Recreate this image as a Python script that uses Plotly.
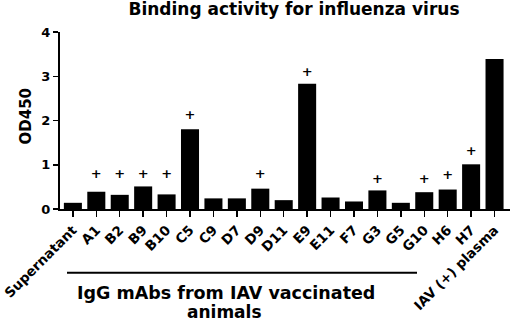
import plotly.graph_objects as go

categories = ["Supernatant", "A1", "B2", "B9", "B10", "C5", "C9", "D7", "D9", "D11",
              "E9", "E11", "F7", "G3", "G5", "G10", "H6", "H7", "IAV (+) plasma"]
od450 = [0.14, 0.39, 0.32, 0.51, 0.33, 1.80, 0.24, 0.24, 0.46, 0.20,
         2.83, 0.26, 0.17, 0.42, 0.14, 0.38, 0.44, 1.01, 3.39]
plus_labels = ["A1", "B2", "B9", "B10", "C5", "D9", "E9", "G3", "G10", "H6", "H7"]
plus_heights = [0.77, 0.77, 0.77, 0.77, 2.10, 0.77, 3.07, 0.67, 0.67, 0.75, 1.30]
y_ticks = [0, 1, 2, 3, 4]

FONT = "DejaVu Sans, Liberation Sans, sans-serif"
W, H = 510, 322
L, T, B = 60, 32, 113
PW, PH = W - L, H - T - B


def px_x(x):
    return (x - L) / PW


def px_y(y):
    return (H - B - y) / PH


fig = go.Figure()
fig.add_trace(go.Bar(x=categories, y=od450, marker=dict(color="black", line=dict(width=0)),
                     width=0.77, showlegend=False, hoverinfo="skip"))
fig.add_trace(go.Scatter(x=plus_labels, y=plus_heights, mode="text", text=["+"] * len(plus_labels),
                         textfont=dict(family=FONT, size=13, color="black", weight="bold"),
                         showlegend=False, hoverinfo="skip"))

fig.update_layout(
    width=W, height=H,
    margin=dict(l=L, r=0, t=T, b=B, pad=0),
    plot_bgcolor="white", paper_bgcolor="white",
    hovermode=False,
    font=dict(family=FONT, color="black", weight="bold"),
    title=dict(text="Binding activity for influenza virus", x=294 / W, xanchor="center",
               xref="container", yref="container",
               y=1 - 9 / H, yanchor="middle", font=dict(family=FONT, size=17, weight="bold")),
)
fig.update_xaxes(
    type="category", range=[-0.55, 18.66], automargin=False,
    showline=True, linecolor="black", linewidth=2,
    ticks="outside", ticklen=6, tickwidth=1.5, tickcolor="black",
    tickangle=-45, tickfont=dict(family=FONT, size=13.5, weight="bold"),
    showgrid=False, zeroline=False,
)
fig.update_yaxes(
    range=[0, 4], tickvals=y_ticks, automargin=False,
    showline=True, linecolor="black", linewidth=2,
    ticks="outside", ticklen=5, tickwidth=1.5, tickcolor="black",
    tickfont=dict(family=FONT, size=13, weight="bold"),
    showgrid=False, zeroline=False,
)

fig.add_annotation(xref="paper", yref="paper", x=px_x(25), y=px_y(116.5),
                   text="OD450", textangle=-90, showarrow=False,
                   font=dict(family=FONT, size=15, weight="bold", color="black"),
                   xanchor="center", yanchor="middle")

# group bracket line under the mAb labels
fig.add_shape(type="line", xref="paper", yref="paper",
              x0=px_x(67), x1=px_x(417), y0=px_y(272.7), y1=px_y(272.7),
              line=dict(color="black", width=2))
fig.add_annotation(xref="paper", yref="paper", x=px_x(225.5), y=px_y(293),
                   text="IgG mAbs from IAV vaccinated", showarrow=False,
                   font=dict(family=FONT, size=17.5, weight="bold", color="black"),
                   xanchor="center", yanchor="middle")
fig.add_annotation(xref="paper", yref="paper", x=px_x(224.5), y=px_y(311.5),
                   text="animals", showarrow=False,
                   font=dict(family=FONT, size=17, weight="bold", color="black"),
                   xanchor="center", yanchor="middle")

fig.write_html("out.html",
               config={"displayModeBar": False, "staticPlot": True},
               post_script="document.body.style.margin='0';document.body.style.overflow='hidden';")
